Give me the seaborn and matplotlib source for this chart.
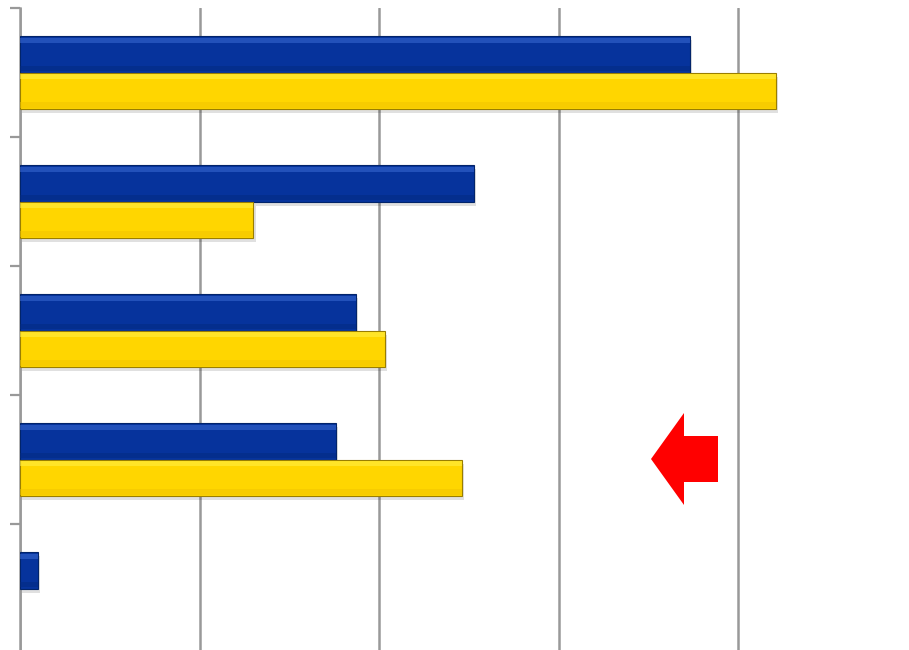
import matplotlib
matplotlib.use("Agg")
import matplotlib.pyplot as plt
import matplotlib.patheffects as pe
from matplotlib.patches import Polygon, Rectangle
import seaborn as sns
import pandas as pd

categories = ["Cat 1", "Cat 2", "Cat 3", "Cat 4", "Cat 5"]
series_names = ["Series 1", "Series 2"]
series1 = [3.73, 2.53, 1.87, 1.76, 0.10]
series2 = [4.21, 1.30, 2.03, 2.46, 0.0]

df = pd.DataFrame({
    "category": categories * 2,
    "series": [series_names[0]] * len(categories) + [series_names[1]] * len(categories),
    "value": series1 + series2,
})

sns.set_theme(style="white")
plt.rcParams['font.family'] = ['DejaVu Sans']

W, H = 909, 650
fig = plt.figure(figsize=(W / 100, H / 100), dpi=100)
ax = fig.add_axes([20 / W, -3 / H, 889 / W, 645 / H])

palette = {series_names[0]: "#06339c", series_names[1]: "#ffd600"}
edges = {series_names[0]: "#02246a", series_names[1]: "#9a7e00"}

sns.barplot(data=df, y="category", x="value", hue="series", order=categories,
            hue_order=series_names, palette=palette, orient="h", width=0.566,
            ax=ax, legend=False, saturation=1, zorder=3)

ax.set_xlim(0, 4.95)
ax.set_ylim(4.5, -0.5)
ax.set_xticks([0, 1, 2, 3, 4])
ax.set_yticks([-0.5, 0.5, 1.5, 2.5, 3.5, 4.5])
ax.set_xticklabels([])
ax.set_yticklabels([])
ax.set_xlabel("")
ax.set_ylabel("")
ax.grid(axis="x", color="#999999", linewidth=1.8, zorder=0)
ax.grid(axis="y", visible=False)
for s in ["top", "right", "bottom"]:
    ax.spines[s].set_visible(False)
ax.spines["left"].set_color("#999999")
ax.spines["left"].set_linewidth(1.8)
ax.tick_params(axis="y", left=True, length=7, width=1.6, color="#999999", direction="out")
ax.tick_params(axis="x", bottom=False)

# Glossy/bevel styling derived from each drawn bar
hl = {series_names[0]: "#3a6ad4", series_names[1]: "#fff04a"}
dk = {series_names[0]: "#042a80", series_names[1]: "#f0c400"}
n = len(categories)
for i, patch in enumerate(list(ax.patches)):
    sname = series_names[i // n]
    w = patch.get_width()
    if w <= 0:
        patch.set_visible(False)
        continue
    patch.set_edgecolor(edges[sname])
    patch.set_linewidth(0.8)
    patch.set_path_effects([pe.SimplePatchShadow(offset=(1.5, -3), shadow_rgbFace="#000000", alpha=0.12),
                            pe.Normal()])
    x0, y0 = patch.get_x(), patch.get_y()
    h = patch.get_height()
    ax.add_patch(Rectangle((x0, y0 + h * 0.05), w, h * 0.14, facecolor=hl[sname],
                           edgecolor="none", zorder=4, alpha=0.55))
    ax.add_patch(Rectangle((x0, y0 + h * 0.82), w, h * 0.14, facecolor=dk[sname],
                           edgecolor="none", zorder=4, alpha=0.5))

# Red arrow annotation (pixel coordinates of figure)
pts = [(651, 459), (684, 413), (684, 436), (718, 436), (718, 482), (684, 482), (684, 505)]
pts_fig = [(x / W, 1 - y / H) for x, y in pts]
fig.patches.append(Polygon(pts_fig, closed=True, transform=fig.transFigure,
                           facecolor="#ff0000", edgecolor="none", zorder=10))

fig.savefig("out.png", dpi=100)
